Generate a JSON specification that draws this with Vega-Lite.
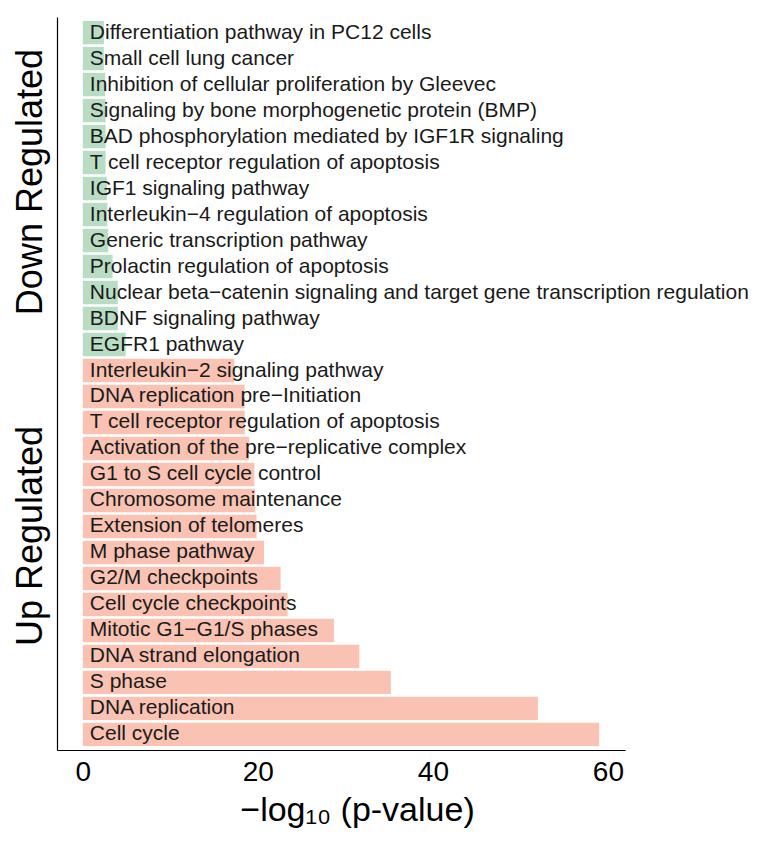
{
  "$schema": "https://vega.github.io/schema/vega-lite/v6.json",
  "width": 568,
  "height": 733,
  "autosize": "none",
  "padding": {"left": 57, "top": 17, "right": 141, "bottom": 94},
  "config": {"view": {"stroke": null}, "font": "Liberation Sans", "axis": {"grid": false}},
  "data": {"values": [
    {"group": "Down Regulated", "key": "Down|Differentiation pathway in PC12 cells", "term": "Differentiation pathway in PC12 cells", "value": 2.4},
    {"group": "Down Regulated", "key": "Down|Small cell lung cancer", "term": "Small cell lung cancer", "value": 2.4},
    {"group": "Down Regulated", "key": "Down|Inhibition of cellular proliferation by Gleevec", "term": "Inhibition of cellular proliferation by Gleevec", "value": 2.55},
    {"group": "Down Regulated", "key": "Down|Signaling by bone morphogenetic protein (BMP)", "term": "Signaling by bone morphogenetic protein (BMP)", "value": 2.6},
    {"group": "Down Regulated", "key": "Down|BAD phosphorylation mediated by IGF1R signaling", "term": "BAD phosphorylation mediated by IGF1R signaling", "value": 2.6},
    {"group": "Down Regulated", "key": "Down|T cell receptor regulation of apoptosis", "term": "T cell receptor regulation of apoptosis", "value": 2.6},
    {"group": "Down Regulated", "key": "Down|IGF1 signaling pathway", "term": "IGF1 signaling pathway", "value": 2.75},
    {"group": "Down Regulated", "key": "Down|Interleukin−4 regulation of apoptosis", "term": "Interleukin−4 regulation of apoptosis", "value": 2.8},
    {"group": "Down Regulated", "key": "Down|Generic transcription pathway", "term": "Generic transcription pathway", "value": 2.9},
    {"group": "Down Regulated", "key": "Down|Prolactin regulation of apoptosis", "term": "Prolactin regulation of apoptosis", "value": 3.4},
    {"group": "Down Regulated", "key": "Down|Nuclear beta−catenin signaling and target gene transcription regulation", "term": "Nuclear beta−catenin signaling and target gene transcription regulation", "value": 4.0},
    {"group": "Down Regulated", "key": "Down|BDNF signaling pathway", "term": "BDNF signaling pathway", "value": 4.0},
    {"group": "Down Regulated", "key": "Down|EGFR1 pathway", "term": "EGFR1 pathway", "value": 4.9},
    {"group": "Up Regulated", "key": "Up|Interleukin−2 signaling pathway", "term": "Interleukin−2 signaling pathway", "value": 17.3},
    {"group": "Up Regulated", "key": "Up|DNA replication pre−Initiation", "term": "DNA replication pre−Initiation", "value": 18.5},
    {"group": "Up Regulated", "key": "Up|T cell receptor regulation of apoptosis", "term": "T cell receptor regulation of apoptosis", "value": 18.5},
    {"group": "Up Regulated", "key": "Up|Activation of the pre−replicative complex", "term": "Activation of the pre−replicative complex", "value": 19.0},
    {"group": "Up Regulated", "key": "Up|G1 to S cell cycle control", "term": "G1 to S cell cycle control", "value": 19.6},
    {"group": "Up Regulated", "key": "Up|Chromosome maintenance", "term": "Chromosome maintenance", "value": 19.7},
    {"group": "Up Regulated", "key": "Up|Extension of telomeres", "term": "Extension of telomeres", "value": 19.85},
    {"group": "Up Regulated", "key": "Up|M phase pathway", "term": "M phase pathway", "value": 20.7},
    {"group": "Up Regulated", "key": "Up|G2/M checkpoints", "term": "G2/M checkpoints", "value": 22.6},
    {"group": "Up Regulated", "key": "Up|Cell cycle checkpoints", "term": "Cell cycle checkpoints", "value": 23.4},
    {"group": "Up Regulated", "key": "Up|Mitotic G1−G1/S phases", "term": "Mitotic G1−G1/S phases", "value": 28.7},
    {"group": "Up Regulated", "key": "Up|DNA strand elongation", "term": "DNA strand elongation", "value": 31.6},
    {"group": "Up Regulated", "key": "Up|S phase", "term": "S phase", "value": 35.2},
    {"group": "Up Regulated", "key": "Up|DNA replication", "term": "DNA replication", "value": 52.0},
    {"group": "Up Regulated", "key": "Up|Cell cycle", "term": "Cell cycle", "value": 59.0}
  ]},
  "encoding": {
    "y": {
      "field": "key", "type": "nominal", "sort": null,
      "scale": {"paddingInner": 0.1, "paddingOuter": 0.15},
      "axis": {"labels": false, "ticks": false, "title": null, "domainColor": "black", "domainWidth": 1.2, "grid": false}
    }
  },
  "layer": [
    {
      "mark": {"type": "bar"},
      "encoding": {
        "x": {
          "field": "value", "type": "quantitative",
          "scale": {"domain": [-2.95, 61.95], "nice": false},
          "axis": {
            "values": [0, 20, 40, 60], "ticks": false, "grid": false,
            "labelFontSize": 28, "labelPadding": 8, "labelColor": "black",
            "title": "−log₁₀ (p-value)", "titleFontSize": 34, "titleFontWeight": "normal",
            "titleColor": "black", "titlePadding": 7, "titleX": 300,
            "domainColor": "black", "domainWidth": 1.2
          }
        },
        "color": {
          "field": "group", "type": "nominal",
          "scale": {"domain": ["Down Regulated", "Up Regulated"], "range": ["#b8ddc4", "#f9c2b2"]},
          "legend": null
        }
      }
    },
    {
      "mark": {"type": "text", "align": "left", "baseline": "middle", "dx": 7, "fontSize": 21, "color": "#1a1a1a"},
      "encoding": {
        "x": {"datum": 0, "type": "quantitative"},
        "text": {"field": "term"}
      }
    },
    {
      "transform": [{"filter": "datum.key == 'Down|IGF1 signaling pathway'"}],
      "mark": {"type": "text", "angle": 270, "fontSize": 36, "align": "center", "baseline": "middle", "dx": 6.5, "color": "black"},
      "encoding": {
        "x": {"datum": -5.94, "type": "quantitative"},
        "text": {"field": "group"}
      }
    },
    {
      "transform": [{"filter": "datum.key == 'Up|Extension of telomeres'"}],
      "mark": {"type": "text", "angle": 270, "fontSize": 36, "align": "center", "baseline": "middle", "dx": -9.5, "color": "black"},
      "encoding": {
        "x": {"datum": -5.94, "type": "quantitative"},
        "text": {"field": "group"}
      }
    }
  ]
}
